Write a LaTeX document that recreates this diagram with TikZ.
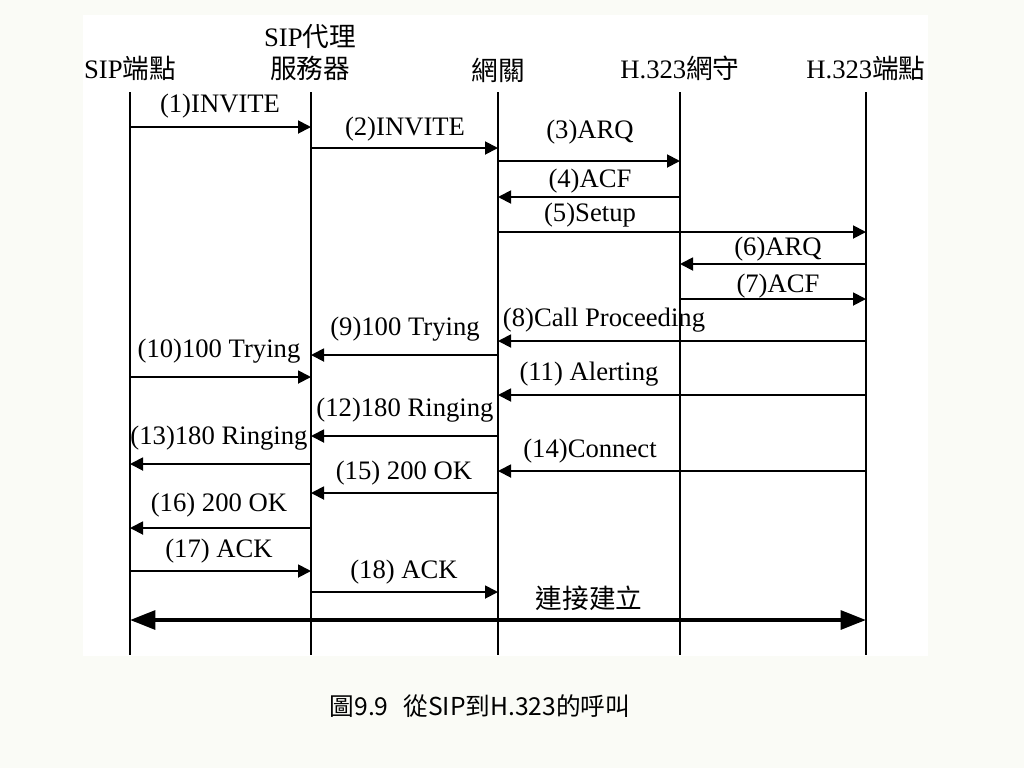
\documentclass[tikz,border=0pt]{standalone}
\usepackage{fontspec}
\setmainfont{Liberation Serif}
\newfontfamily\cjk{Noto Sans CJK TC}
\usetikzlibrary{arrows.meta}
\definecolor{pagebg}{RGB}{250,251,246}
\tikzset{
  lifeline/.style={line width=1.4pt},
  msg/.style={line width=1.4pt,-{Triangle[length=9.75pt,width=9.75pt]}},
  big/.style={line width=3pt,{Triangle[length=19pt,width=14pt]}-{Triangle[length=19pt,width=14pt]}},
  lbl/.style={inner sep=0pt,yshift=-1.8pt,font=\fontsize{20}{22}\selectfont},
  head/.style={inner sep=0pt,font=\fontsize{20}{22}\selectfont},
}
\begin{document}
\begin{tikzpicture}[x=0.75pt,y=-0.75pt]
\fill[pagebg] (0,0) rectangle (1024,768);
\fill[white] (83,15) rectangle (928,656);
\useasboundingbox (0,0) rectangle (1024,768);
% headers
\node[head] (hA) at (130,68) {SIP{\cjk 端點}};
\node[head] (hB1) at (310,37) {SIP{\cjk 代理}};
\node[head] (hB) at (310,68) {\cjk 服務器};
\node[head] (hC) at (498,70) {\cjk 網關};
\node[head] (hD) at (680,68) {H.323{\cjk 網守}};
\node[head] (hE) at (866,68) {H.323{\cjk 端點}};
% lifelines
\foreach \n/\x in {A/130,B/311,C/498,D/680,E/866}{
  \coordinate (\n) at (\x,92);
  \coordinate (\n b) at (\x,655);
  \draw[lifeline] (\n) -- (\n b);
}
% messages
\draw[msg] (A|-0,127) -- (B|-0,127);
\node[lbl] (m1) at (220,104) {(1)INVITE};
\draw[msg] (B|-0,148) -- (C|-0,148);
\node[lbl] (m2) at (405,127) {(2)INVITE};
\draw[msg] (C|-0,161) -- (D|-0,161);
\node[lbl] (m3) at (590,130) {(3)ARQ};
\draw[msg] (D|-0,197) -- (C|-0,197);
\node[lbl] (m4) at (590,179) {(4)ACF};
\draw[msg] (C|-0,232) -- (E|-0,232);
\node[lbl] (m5) at (590,213) {(5)Setup};
\draw[msg] (E|-0,264) -- (D|-0,264);
\node[lbl] (m6) at (778,247) {(6)ARQ};
\draw[msg] (D|-0,299) -- (E|-0,299);
\node[lbl] (m7) at (778,284) {(7)ACF};
\draw[msg] (E|-0,341) -- (C|-0,341);
\node[lbl] (m8) at (604,318) {(8)Call Proceeding};
\draw[msg] (C|-0,355) -- (B|-0,355);
\node[lbl] (m9) at (405,327) {(9)100 Trying};
\draw[msg] (A|-0,377) -- (B|-0,377);
\node[lbl] (m10) at (219,349) {(10)100 Trying};
\draw[msg] (E|-0,395) -- (C|-0,395);
\node[lbl] (m11) at (589,372) {(11) Alerting};
\draw[msg] (C|-0,436) -- (B|-0,436);
\node[lbl] (m12) at (405,408) {(12)180 Ringing};
\draw[msg] (B|-0,464) -- (A|-0,464);
\node[lbl] (m13) at (219,436) {(13)180 Ringing};
\draw[msg] (E|-0,471) -- (C|-0,471);
\node[lbl] (m14) at (590,449) {(14)Connect};
\draw[msg] (C|-0,493) -- (B|-0,493);
\node[lbl] (m15) at (404,471) {(15) 200 OK};
\draw[msg] (B|-0,528) -- (A|-0,528);
\node[lbl] (m16) at (219,503) {(16) 200 OK};
\draw[msg] (A|-0,571) -- (B|-0,571);
\node[lbl] (m17) at (219,549) {(17) ACK};
\draw[msg] (B|-0,592) -- (C|-0,592);
\node[lbl] (m18) at (404,570) {(18) ACK};
\draw[big] (A|-0,620) -- (E|-0,620);
\node[lbl,font=\cjk\fontsize{20}{22}\selectfont] (est) at (589,596) {連接建立};
% caption
\node[inner sep=0pt,font=\cjk\fontsize{18.5}{21}\selectfont] (cap) at (480,706) {圖9.9\hspace{0.6em}從SIP到H.323的呼叫};
\end{tikzpicture}
\end{document}
